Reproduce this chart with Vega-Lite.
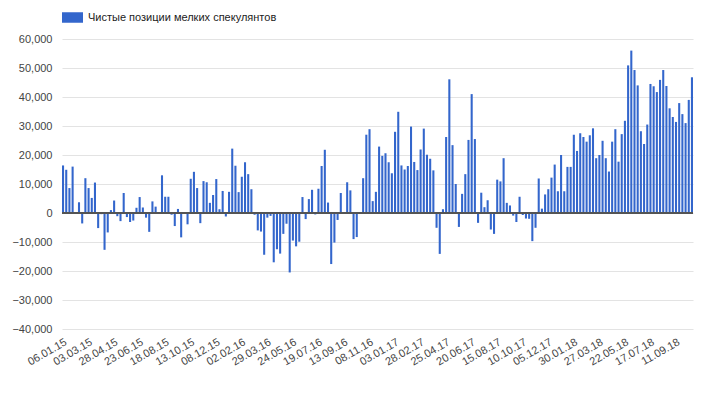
{
 "$schema": "https://vega.github.io/schema/vega-lite/v6.json",
 "width": 631,
 "height": 290,
 "autosize": "none",
 "padding": {"left": 62, "top": 39, "right": 11, "bottom": 66},
 "background": "white",
 "config": {"view": {"stroke": null}, "font": "Liberation Sans"},
 "data": {"values": [
 {"d":"06.01.15","v":16400},{"d":"13.01.15","v":14900},{"d":"20.01.15","v":8600},{"d":"27.01.15","v":16000},{"d":"03.02.15","v":-200},{"d":"10.02.15","v":3700},{"d":"17.02.15","v":-3600},{"d":"24.02.15","v":12000},{"d":"03.03.15","v":8600},{"d":"10.03.15","v":5200},{"d":"17.03.15","v":10500},{"d":"24.03.15","v":-5200},{"d":"31.03.15","v":-400},{"d":"07.04.15","v":-12700},{"d":"14.04.15","v":-6700},{"d":"21.04.15","v":1000},{"d":"28.04.15","v":4300},{"d":"05.05.15","v":-1100},{"d":"12.05.15","v":-2800},{"d":"19.05.15","v":6900},{"d":"26.05.15","v":-1400},{"d":"02.06.15","v":-3100},{"d":"09.06.15","v":-2600},{"d":"16.06.15","v":1800},{"d":"23.06.15","v":5500},{"d":"30.06.15","v":1900},{"d":"07.07.15","v":-1600},{"d":"14.07.15","v":-6500},{"d":"21.07.15","v":4000},{"d":"28.07.15","v":2200},{"d":"04.08.15","v":300},{"d":"11.08.15","v":13000},{"d":"18.08.15","v":5600},{"d":"25.08.15","v":5600},{"d":"01.09.15","v":-600},{"d":"08.09.15","v":-4500},{"d":"15.09.15","v":1400},{"d":"22.09.15","v":-8400},{"d":"29.09.15","v":100},{"d":"06.10.15","v":-3900},{"d":"13.10.15","v":11800},{"d":"20.10.15","v":14200},{"d":"27.10.15","v":8600},{"d":"03.11.15","v":-3500},{"d":"10.11.15","v":11000},{"d":"17.11.15","v":10600},{"d":"24.11.15","v":3500},{"d":"01.12.15","v":6200},{"d":"08.12.15","v":11700},{"d":"15.12.15","v":1300},{"d":"22.12.15","v":7600},{"d":"29.12.15","v":-1200},
 {"d":"05.01.16","v":7300},{"d":"12.01.16","v":22200},{"d":"19.01.16","v":16300},{"d":"26.01.16","v":7200},{"d":"02.02.16","v":12500},{"d":"09.02.16","v":17500},{"d":"16.02.16","v":13400},{"d":"23.02.16","v":8200},{"d":"01.03.16","v":-600},{"d":"08.03.16","v":-6000},{"d":"15.03.16","v":-6400},{"d":"22.03.16","v":-14400},{"d":"29.03.16","v":-1600},{"d":"05.04.16","v":-1000},{"d":"12.04.16","v":-17000},{"d":"19.04.16","v":-12500},{"d":"26.04.16","v":-14000},{"d":"03.05.16","v":-7200},{"d":"10.05.16","v":-3700},{"d":"17.05.16","v":-20500},{"d":"24.05.16","v":-9500},{"d":"31.05.16","v":-11500},{"d":"07.06.16","v":-9900},{"d":"14.06.16","v":5500},{"d":"21.06.16","v":-2100},{"d":"28.06.16","v":4800},{"d":"05.07.16","v":8000},{"d":"12.07.16","v":-500},{"d":"19.07.16","v":8400},{"d":"26.07.16","v":16200},{"d":"02.08.16","v":21800},{"d":"09.08.16","v":3600},{"d":"16.08.16","v":-17600},{"d":"23.08.16","v":-10200},{"d":"30.08.16","v":-2400},{"d":"06.09.16","v":6900},{"d":"13.09.16","v":100},{"d":"20.09.16","v":10600},{"d":"27.09.16","v":7800},{"d":"04.10.16","v":-9000},{"d":"11.10.16","v":-8300},{"d":"18.10.16","v":300},{"d":"25.10.16","v":12000},{"d":"01.11.16","v":27000},{"d":"08.11.16","v":28900},{"d":"15.11.16","v":4100},{"d":"22.11.16","v":7300},{"d":"29.11.16","v":22900},{"d":"06.12.16","v":19700},{"d":"13.12.16","v":20600},{"d":"20.12.16","v":17500},{"d":"27.12.16","v":13700},
 {"d":"03.01.17","v":28000},{"d":"10.01.17","v":34900},{"d":"17.01.17","v":16400},{"d":"24.01.17","v":15000},{"d":"31.01.17","v":16200},{"d":"07.02.17","v":29800},{"d":"14.02.17","v":17600},{"d":"21.02.17","v":14800},{"d":"28.02.17","v":21900},{"d":"07.03.17","v":29100},{"d":"14.03.17","v":20100},{"d":"21.03.17","v":18700},{"d":"28.03.17","v":14700},{"d":"04.04.17","v":-5100},{"d":"11.04.17","v":-14100},{"d":"18.04.17","v":1300},{"d":"25.04.17","v":26200},{"d":"02.05.17","v":46100},{"d":"09.05.17","v":23400},{"d":"16.05.17","v":10000},{"d":"23.05.17","v":-4800},{"d":"30.05.17","v":6600},{"d":"06.06.17","v":13400},{"d":"13.06.17","v":25200},{"d":"20.06.17","v":41000},{"d":"27.06.17","v":25500},{"d":"04.07.17","v":-3400},{"d":"11.07.17","v":7000},{"d":"18.07.17","v":2000},{"d":"25.07.17","v":4400},{"d":"01.08.17","v":-5700},{"d":"08.08.17","v":-7200},{"d":"15.08.17","v":11500},{"d":"22.08.17","v":10900},{"d":"29.08.17","v":18900},{"d":"05.09.17","v":3500},{"d":"12.09.17","v":2600},{"d":"19.09.17","v":-900},{"d":"26.09.17","v":-3100},{"d":"03.10.17","v":5600},{"d":"10.10.17","v":-700},{"d":"17.10.17","v":-1900},{"d":"24.10.17","v":-2000},{"d":"31.10.17","v":-9700},{"d":"07.11.17","v":-5100},{"d":"14.11.17","v":11900},{"d":"21.11.17","v":1500},{"d":"28.11.17","v":6400},{"d":"05.12.17","v":8200},{"d":"12.12.17","v":12200},{"d":"19.12.17","v":16700},{"d":"26.12.17","v":7500},
 {"d":"02.01.18","v":20000},{"d":"09.01.18","v":7500},{"d":"16.01.18","v":15900},{"d":"23.01.18","v":15900},{"d":"30.01.18","v":27000},{"d":"06.02.18","v":21400},{"d":"13.02.18","v":27500},{"d":"20.02.18","v":26200},{"d":"27.02.18","v":24600},{"d":"06.03.18","v":26800},{"d":"13.03.18","v":29200},{"d":"20.03.18","v":18900},{"d":"27.03.18","v":20000},{"d":"03.04.18","v":24900},{"d":"10.04.18","v":18900},{"d":"17.04.18","v":14300},{"d":"24.04.18","v":24600},{"d":"01.05.18","v":28900},{"d":"08.05.18","v":17700},{"d":"15.05.18","v":27200},{"d":"22.05.18","v":31800},{"d":"29.05.18","v":50900},{"d":"05.06.18","v":56000},{"d":"12.06.18","v":49300},{"d":"19.06.18","v":44000},{"d":"26.06.18","v":28200},{"d":"03.07.18","v":23800},{"d":"10.07.18","v":30500},{"d":"17.07.18","v":44500},{"d":"24.07.18","v":43700},{"d":"31.07.18","v":41700},{"d":"07.08.18","v":45900},{"d":"14.08.18","v":49300},{"d":"21.08.18","v":43800},{"d":"28.08.18","v":36100},{"d":"04.09.18","v":33100},{"d":"11.09.18","v":31400},{"d":"18.09.18","v":37900},{"d":"25.09.18","v":34100},{"d":"02.10.18","v":31000},{"d":"09.10.18","v":39000},{"d":"16.10.18","v":46800}
 ]},
 "layer": [
  {
   "mark": {"type": "bar"},
   "encoding": {
    "x": {"field": "d", "type": "ordinal", "sort": null,
      "scale": {"paddingInner": 0.35, "paddingOuter": 0},
      "axis": {"values": ["06.01.15","03.03.15","28.04.15","23.06.15","18.08.15","13.10.15","08.12.15","02.02.16","29.03.16","24.05.16","19.07.16","13.09.16","08.11.16","03.01.17","28.02.17","25.04.17","20.06.17","15.08.17","10.10.17","05.12.17","30.01.18","27.03.18","22.05.18","17.07.18","11.09.18"],
        "labelAngle": -30, "title": null, "ticks": false, "domain": false, "grid": false, "labelOverlap": false,
        "labelFontSize": 11, "labelColor": "#444", "labelPadding": 7}},
    "y": {"field": "v", "type": "quantitative",
      "scale": {"domain": [-40000, 60000], "nice": false},
      "axis": {"values": [-40000,-30000,-20000,-10000,0,10000,20000,30000,40000,50000,60000], "labelOverlap": false,
        "format": ",d", "title": null, "ticks": false, "domain": false,
        "gridColor": "#e3e3e3", "labelColor": "#444", "labelFontSize": 11, "labelPadding": 10}},
    "color": {"datum": "Чистые позиции мелких спекулянтов",
      "scale": {"range": ["#3366cc"]},
      "legend": {"title": null, "orient": "none", "legendX": 0, "legendY": -32, "padding": 0, "labelLimit": 0,
        "symbolType": "M-1,-0.5H1V0.5H-1Z", "symbolSize": 441, "symbolStrokeWidth": 0,
        "labelFontSize": 11, "labelColor": "#222", "labelOffset": 5}}
   }
  },
  {
   "mark": {"type": "rule", "color": "#555"},
   "encoding": {"y": {"datum": 0, "type": "quantitative",
      "axis": {"values": [-40000,-30000,-20000,-10000,0,10000,20000,30000,40000,50000,60000], "labelOverlap": false,
        "format": ",d", "title": null, "ticks": false, "domain": false,
        "gridColor": "#e3e3e3", "labelColor": "#444", "labelFontSize": 11, "labelPadding": 10}}}
  }
 ]
}
